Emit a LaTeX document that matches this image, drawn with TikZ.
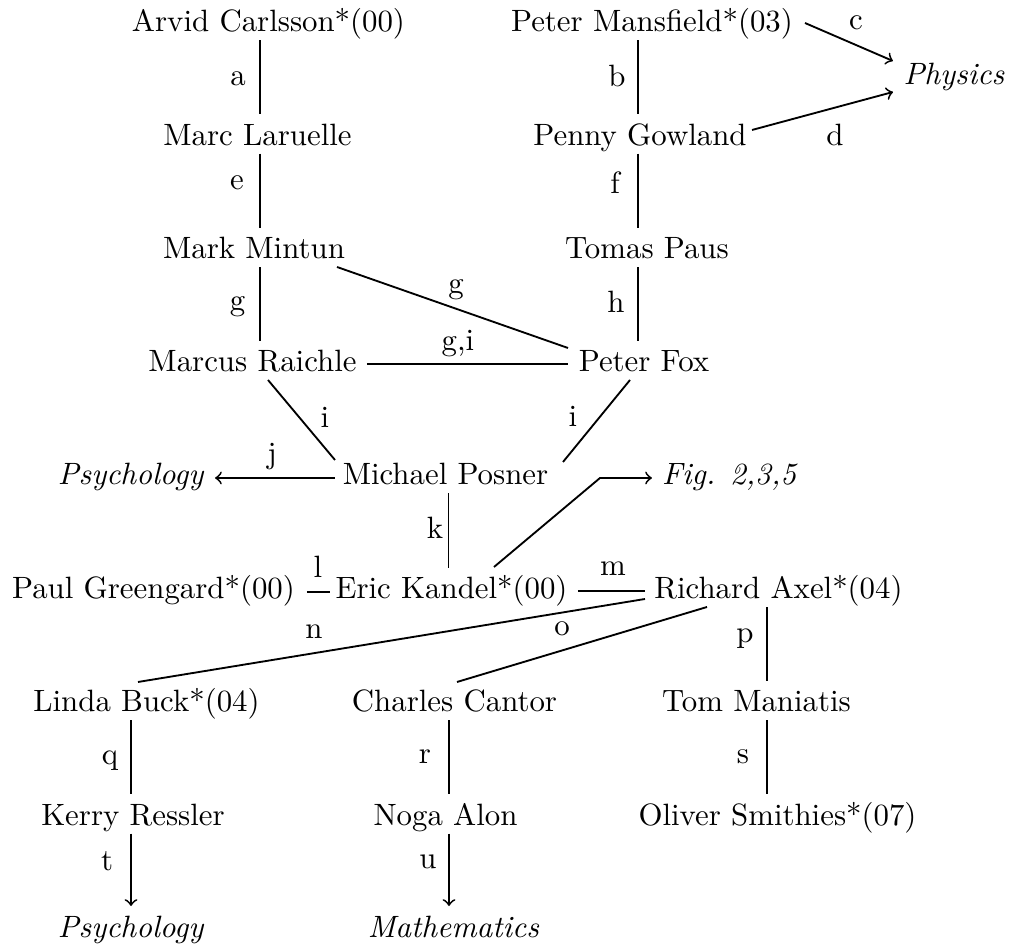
\documentclass[tikz,border=0pt]{standalone}
\begin{document}
\begin{tikzpicture}[x=0.3242pt, y=-0.3242pt,
  nd/.style={anchor=base, inner xsep=3.3pt, inner ysep=0pt, text height=10pt, text depth=2.4pt},
  lbl/.style={inner sep=0pt},
  ln/.style={line width=0.6pt},
  ar/.style={line width=0.6pt, ->}]
\useasboundingbox (0,0) rectangle (1011,947);
% nodes
\node[nd] (carlsson) at (268.5,32) {Arvid Carlsson*(00)};
\node[nd] (mansfield) at (652,32) {Peter Mansfield*(03)};
\node[nd] (physics) at (954,85) {\textit{Physics}};
\node[nd] (laruelle) at (257.5,145.5) {Marc Laruelle};
\node[nd] (gowland) at (640,145.5) {Penny Gowland};
\node[nd] (mintun) at (254,259) {Mark Mintun};
\node[nd] (paus) at (647,259) {Tomas Paus};
\node[nd] (raichle) at (252.5,372) {Marcus Raichle};
\node[nd] (fox) at (644,372) {Peter Fox};
\node[nd] (psyA) at (131,485) {\textit{Psychology}};
\node[nd] (posner) at (445.5,485) {Michael Posner};
\node[nd] (fig) at (730,485) {\textit{Fig. 2,3,5}};
\node[nd] (greengard) at (153.5,599) {Paul Greengard*(00)};
\node[nd] (kandel) at (451.5,599) {Eric Kandel*(00)};
\node[nd] (axel) at (778.5,599) {Richard Axel*(04)};
\node[nd] (buck) at (146.5,712) {Linda Buck*(04)};
\node[nd] (cantor) at (454.5,712) {Charles Cantor};
\node[nd] (maniatis) at (756.5,712) {Tom Maniatis};
\node[nd] (ressler) at (133,825.5) {Kerry Ressler};
\node[nd] (alon) at (445.5,825.5) {Noga Alon};
\node[nd] (smithies) at (777.5,825.5) {Oliver Smithies*(07)};
\node[nd] (psyB) at (131,937.5) {\textit{Psychology}};
\node[nd] (math) at (453.5,937.5) {\textit{Mathematics}};
% column coordinates
\coordinate (colA) at (260,0);
\coordinate (colB) at (638,0);
\coordinate (colK) at (448.5,0);
\coordinate (colP) at (767,0);
\coordinate (colQ) at (131,0);
\coordinate (colR) at (449,0);
\coordinate (figbend) at (600,478);
% vertical connectors
\draw[ln] (carlsson.south -| colA) -- (laruelle.north -| colA) node[lbl,midway,shift={(-22,2)}] {a};
\draw[ln] (mansfield.south -| colB) -- (gowland.north -| colB) node[lbl,midway,shift={(-21,-1.5)}] {b};
\draw[ln] (laruelle.south -| colA) -- (mintun.north -| colA) node[lbl,midway,shift={(-23,-7.5)}] {e};
\draw[ln] (gowland.south -| colB) -- (paus.north -| colB) node[lbl,midway,shift={(-23,-7.5)}] {f};
\draw[ln] (mintun.south -| colA) -- (raichle.north -| colA) node[lbl,midway,shift={(-22.5,3)}] {g};
\draw[ln] (paus.south -| colB) -- (fox.north -| colB) node[lbl,midway,shift={(-22,-1.5)}] {h};
\draw[ln] (posner.south -| colK) -- (kandel.north -| colK) node[lbl,midway,shift={(-13.5,-2)}] {k};
\draw[ln] (axel.south -| colP) -- (maniatis.north -| colP) node[lbl,midway,shift={(-22,-5.5)}] {p};
\draw[ln] (buck.south -| colQ) -- (ressler.north -| colQ) node[lbl,midway,shift={(-21,3.5)}] {q};
\draw[ln] (cantor.south -| colR) -- (alon.north -| colR) node[lbl,midway,shift={(-24,0)}] {r};
\draw[ln] (maniatis.south -| colP) -- (smithies.north -| colP) node[lbl,midway,shift={(-24,0)}] {s};
\draw[ar] (ressler.south -| colQ) -- (psyB.north -| colQ) node[lbl,midway,shift={(-24,-8.5)}] {t};
\draw[ar] (alon.south -| colR) -- (math.north -| colR) node[lbl,midway,shift={(-21,-7.5)}] {u};
% other connectors
\draw[ar] ([shift={(153,-9)}]mansfield.base) -- ([shift={(-61,-24)}]physics.base) node[lbl,midway,shift={(7,-19)}] {c};
\draw[ar] ([shift={(112,-15.5)}]gowland.base) -- ([shift={(-61,7)}]physics.base) node[lbl,midway,shift={(12.5,24)}] {d};
\draw[ln] ([shift={(83,8)}]mintun.base) -- ([shift={(-76,-24)}]fox.base) node[lbl,midway,shift={(3.5,-17.5)}] {g};
\draw[ln] ([shift={(114.5,-8)}]raichle.base) -- ([shift={(-76,-8)}]fox.base) node[lbl,midway,shift={(-9.5,-20)}] {g,i};
\draw[ln] ([shift={(15.5,8)}]raichle.base) -- ([shift={(-110.5,-25)}]posner.base) node[lbl,midway,shift={(23.5,-3)}] {i};
\draw[ln] ([shift={(-14,8)}]fox.base) -- ([shift={(117.5,-23)}]posner.base) node[lbl,midway,shift={(-23.5,-5)}] {i};
\draw[ar] ([shift={(-110.5,-7)}]posner.base) -- ([shift={(84,-7)}]psyA.base) node[lbl,midway,shift={(-3,-21)}] {j};
\draw[ar] ([shift={(42.5,-32)}]kandel.base) -- (figbend) -- ([shift={(-78,-7)}]fig.base);
\draw[ln] ([shift={(153.5,-7)}]greengard.base) -- ([shift={(-121.5,-7)}]kandel.base) node[lbl,midway,shift={(-0.5,-25)}] {l};
\draw[ln] ([shift={(126.5,-8)}]kandel.base) -- ([shift={(-133.5,-8)}]axel.base) node[lbl,midway,shift={(1.5,-22)}] {m};
\draw[ln] ([shift={(-133.5,0)}]axel.base) -- ([shift={(-8.5,-30)}]buck.base) node[lbl,pos=0.653,shift={(0,-22)}] {n};
\draw[ln] ([shift={(-71.5,8)}]axel.base) -- ([shift={(2.5,-30)}]cantor.base) node[lbl,pos=0.58,shift={(0,-21.5)}] {o};
\end{tikzpicture}
\end{document}
